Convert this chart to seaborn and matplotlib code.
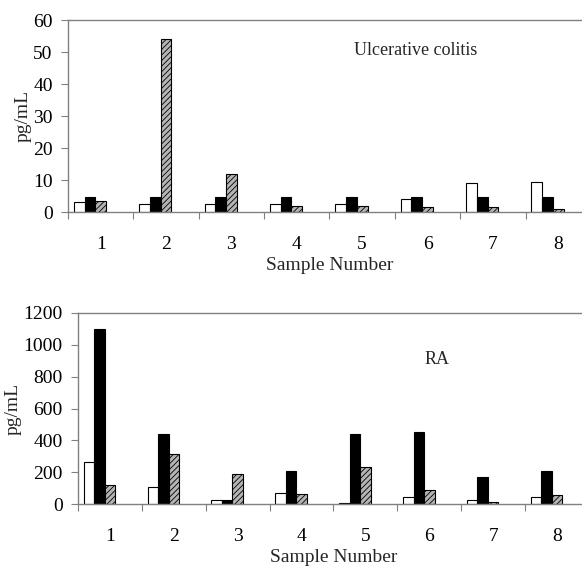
import matplotlib
matplotlib.use("Agg")
import matplotlib.pyplot as plt
from matplotlib.ticker import FixedLocator
from matplotlib.colors import to_hex
import seaborn as sns
import pandas as pd

# ── data ──
samples = ["1", "2", "3", "4", "5", "6", "7", "8"]
series = ["open", "solid", "hatched"]
# two empty series exist in the original chart (they only take up space)
series_order = ["open", "solid", "hatched", "empty_4", "empty_5"]

uc_open = [3.2, 2.5, 2.5, 2.5, 2.5, 4.0, 9.0, 9.3]
uc_solid = [4.8, 4.8, 4.8, 4.8, 4.8, 4.8, 4.8, 4.8]
uc_hatched = [3.6, 54.1, 12.0, 1.9, 1.9, 1.5, 1.5, 1.1]

ra_open = [266, 105, 25, 71, 8, 42, 25, 42]
ra_solid = [1101, 438, 25, 208, 438, 455, 168, 208]
ra_hatched = [122, 317, 191, 61, 235, 86, 15, 57]

uc_ticks = [0, 10, 20, 30, 40, 50, 60]
ra_ticks = [0, 200, 400, 600, 800, 1000, 1200]

HATCH_FILL = "#b4b4b4"
palette = {"open": "#ffffff", "solid": "#000000", "hatched": HATCH_FILL,
           "empty_4": "#ffffff", "empty_5": "#ffffff"}


def long_df(open_v, solid_v, hatched_v):
    rows = []
    for name, vals in zip(series, [open_v, solid_v, hatched_v]):
        for s, v in zip(samples, vals):
            rows.append({"sample": s, "series": name, "value": v})
    return pd.DataFrame(rows)


sns.set_theme(style="white")
plt.rcParams["font.family"] = ["Liberation Serif", "DejaVu Serif"]
plt.rcParams["hatch.linewidth"] = 0.6
plt.rcParams["hatch.color"] = "black"

fig = plt.figure(figsize=(5.82, 5.66), dpi=100)
ax_top = fig.add_axes([0.1168, 0.6254, 0.8986, 0.3392])
ax_bot = fig.add_axes([0.1340, 0.1095, 0.8780, 0.3375])

panels = [
    (ax_top, long_df(uc_open, uc_solid, uc_hatched), uc_ticks, "Ulcerative colitis", (3.87, 50.6)),
    (ax_bot, long_df(ra_open, ra_solid, ra_hatched), ra_ticks, "RA", (4.93, 905)),
]

for ax, df, yt, label, (tx, ty) in panels:
    sns.barplot(data=df, x="sample", y="value", hue="series",
                order=samples, hue_order=series_order, palette=palette,
                saturation=1, width=0.82, errorbar=None, legend=False,
                edgecolor="black", linewidth=0.8, ax=ax)
    for p in ax.patches:
        if to_hex(p.get_facecolor()) == HATCH_FILL:
            p.set_hatch("//////")

    ax.set_xlim(-0.5, 7.5)
    ax.set_ylim(yt[0], yt[-1])
    ax.set_yticks(yt)
    ax.set_yticklabels([str(t) for t in yt])

    # boundaries between samples as minor ticks, no major tick marks
    ax.xaxis.set_minor_locator(FixedLocator([i - 0.5 for i in range(len(samples) + 1)]))
    ax.tick_params(axis="x", which="major", length=0, pad=17, labelsize=14, colors="black")
    ax.tick_params(axis="x", which="minor", bottom=True, length=5, width=0.8, color="#808080")
    ax.tick_params(axis="y", left=True, length=5, width=0.8, color="#808080",
                   pad=6, labelsize=14, labelcolor="black")

    for side in ["left", "top", "bottom"]:
        ax.spines[side].set_color("#808080")
        ax.spines[side].set_linewidth(1.0)
    ax.spines["right"].set_visible(False)

    ax.set_xlabel("Sample Number", fontsize=14, labelpad=3)
    ax.set_ylabel("pg/mL", fontsize=14, labelpad=1)
    ax.text(tx, ty, label, fontsize=13, va="center", ha="left")

fig.savefig("out.png", dpi=100)
